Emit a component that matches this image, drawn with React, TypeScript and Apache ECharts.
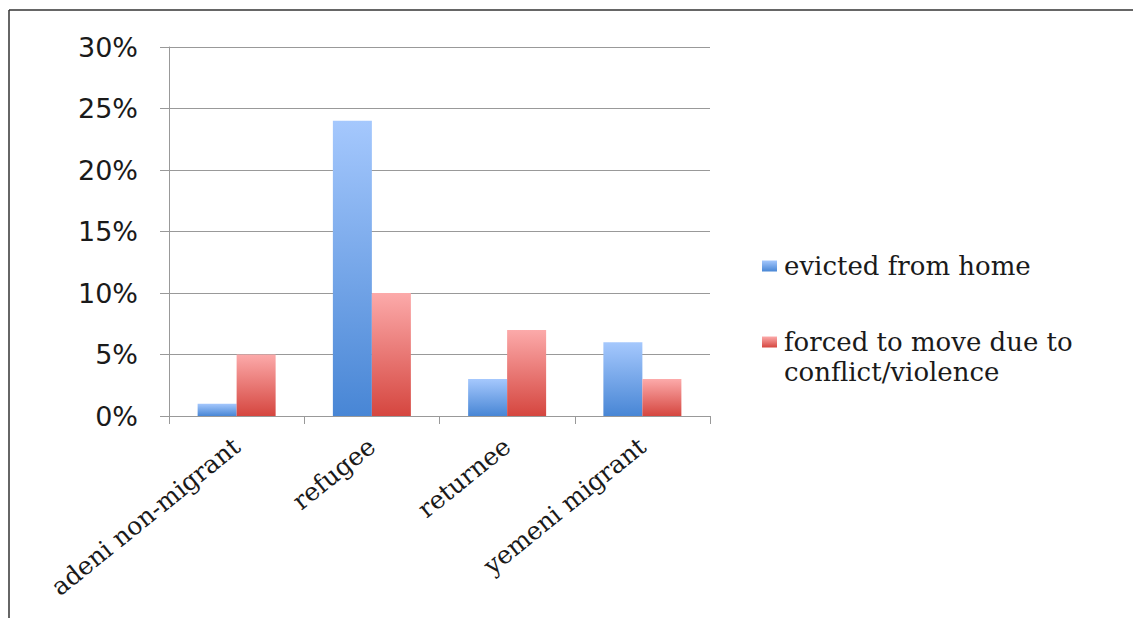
import React, { useEffect, useRef } from "react";
import * as echarts from "echarts";

const categories = ["adeni non-migrant", "refugee", "returnee", "yemeni migrant"];
const seriesNames = ["evicted from home", "forced to move due to conflict/violence"];
const legendLabels = ["evicted from home", "\nforced to move due to\nconflict/violence"];
const evicted = [1, 24, 3, 6];
const forced = [5, 10, 7, 3];
const yTicks = { min: 0, max: 30, interval: 5 };

export default function App() {
  const ref = useRef<HTMLDivElement>(null);
  useEffect(() => {
    if (!ref.current) return;
    const chart = echarts.init(ref.current, undefined, { renderer: "svg" });
    const blue = new echarts.graphic.LinearGradient(0, 0, 0, 1, [
      { offset: 0, color: "#a5c8fd" },
      { offset: 1, color: "#4886d5" },
    ]);
    const red = new echarts.graphic.LinearGradient(0, 0, 0, 1, [
      { offset: 0, color: "#fcaaaa" },
      { offset: 1, color: "#d5463f" },
    ]);
    const serif = "DejaVu Serif";
    chart.setOption({
      animation: false,
      backgroundColor: "#ffffff",
      graphic: [
        { type: "line", shape: { x1: 9, y1: 10, x2: 1133, y2: 10 }, style: { stroke: "#333", lineWidth: 1.5 } },
        { type: "line", shape: { x1: 9, y1: 10, x2: 9, y2: 618 }, style: { stroke: "#333", lineWidth: 1.5 } },
      ],
      grid: { left: 169, right: 423, top: 47, bottom: 202, containLabel: false },
      legend: {
        orient: "vertical",
        left: 757,
        top: 246,
        itemWidth: 15,
        itemHeight: 11,
        itemGap: 16,
        icon: "rect",
        data: seriesNames,
        formatter: (name: string) => legendLabels[seriesNames.indexOf(name)],
        textStyle: { fontFamily: serif, fontSize: 26, lineHeight: 30, color: "#1a1a1a", padding: [0, 0, 0, 2] },
      },
      xAxis: {
        type: "category",
        data: categories,
        axisLine: { lineStyle: { color: "#999", width: 1 } },
        axisTick: { show: true, length: 8, alignWithLabel: false, lineStyle: { color: "#999" } },
        axisLabel: {
          rotate: 39,
          interval: 0,
          margin: 27,
          fontFamily: serif,
          fontSize: 25,
          color: "#1a1a1a",
        },
      },
      yAxis: {
        type: "value",
        min: yTicks.min,
        max: yTicks.max,
        interval: yTicks.interval,
        axisLine: { show: true, lineStyle: { color: "#999", width: 1 } },
        axisTick: { show: true, length: 9, lineStyle: { color: "#999" } },
        splitLine: { lineStyle: { color: "#999", width: 1 } },
        axisLabel: {
          formatter: (v: number) => v + "%",
          margin: 31,
          fontFamily: "DejaVu Sans",
          fontSize: 27,
          color: "#1a1a1a",
        },
      },
      series: [
        {
          name: seriesNames[0],
          type: "bar",
          data: evicted,
          barWidth: 39,
          barGap: "0%",
          itemStyle: { color: blue },
        },
        {
          name: seriesNames[1],
          type: "bar",
          data: forced,
          barWidth: 39,
          barGap: "0%",
          itemStyle: { color: red },
        },
      ],
    });
    return () => chart.dispose();
  }, []);
  return (
    <div
      ref={ref}
      style={{ position: "fixed", left: 0, top: 0, width: 1133, height: 618, background: "#fff" }}
    />
  );
}
